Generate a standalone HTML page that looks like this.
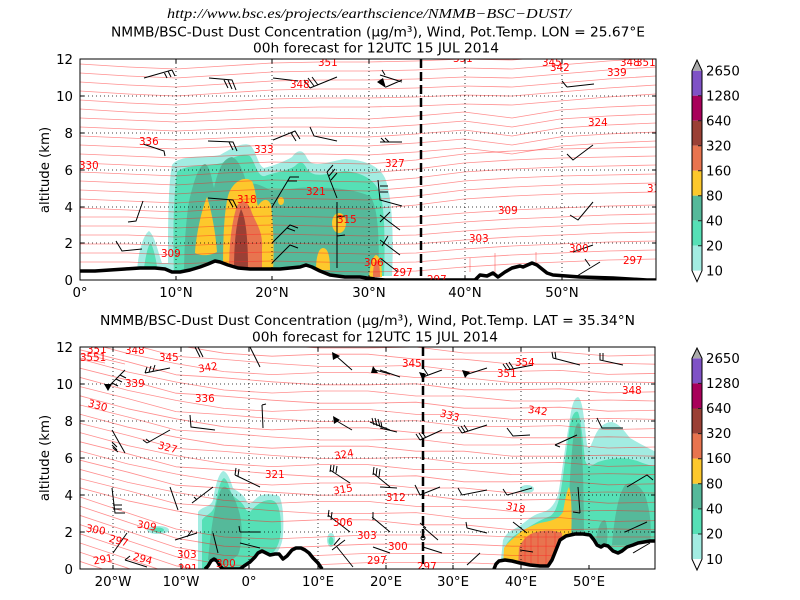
<!DOCTYPE html>
<html><head><meta charset="utf-8"><style>
html,body{margin:0;padding:0;background:#fff;}
svg{display:block;}
text{font-family:"DejaVu Sans","Liberation Sans",sans-serif;}
text.url{font-family:"Liberation Serif","DejaVu Serif",serif;font-style:italic;}
.tk{font-size:13.3px;fill:#000;}
.rl{font-size:10.3px;fill:#f00;}
</style></head><body>
<svg width="800" height="600" viewBox="0 0 800 600">
<defs>
<clipPath id="c1"><rect x="80" y="59" width="576" height="221"/></clipPath>
<clipPath id="c2"><rect x="80" y="347" width="575" height="222"/></clipPath>
<path id="tU" d="M80,0 L128,3 L176,5 L224,2 L272,-1 L320,-2 L368,-2 L416,-3 L464,-5 L512,-4 L560,-8 L608,-12 L656,-15"/>
<path id="tM1" d="M80,0 L128,2 L176,4 L224,2 L272,0 L320,0 L368,1 L416,-2 L464,-6 L488,-3 L512,0 L536,-4 L560,-8 L608,-11 L656,-13"/>
<path id="tM2" d="M80,0 L128,2 L176,4 L224,1 L272,-1 L320,0 L368,1 L416,-3 L464,-9 L512,-12 L560,-14 L608,-15 L656,-16"/>
<path id="tL" d="M80,0 L128,0 L176,2 L224,0 L272,-1 L320,0 L368,1 L416,0 L464,-4 L512,-7 L560,-9 L608,-11 L656,-12"/>
<path id="bA" d="M80,0 L128,12 L176,25 L224,28 L272,32 L320,35 L368,35 L416,34 L464,40 L512,40 L560,39 L608,43 L656,42"/>
<path id="bB" d="M80,0 L128,13 L176,23 L224,31 L272,34 L320,32 L368,32 L416,37 L464,37 L512,42 L560,42 L608,41 L656,42"/>
<path id="bC" d="M80,0 L128,16 L176,32 L224,40 L272,42 L320,40 L368,38 L416,38 L464,38 L512,40 L560,40 L608,40 L656,40"/>
</defs>
<rect width="800" height="600" fill="#fff"/>

<!-- Titles -->
<text class="url" x="167" y="18" font-size="14" textLength="404" lengthAdjust="spacingAndGlyphs">http://www.bsc.es/projects/earthscience/NMMB−BSC−DUST/</text>
<text x="111" y="36.5" font-size="13.7" textLength="534" lengthAdjust="spacingAndGlyphs">NMMB/BSC-Dust Dust Concentration (μg/m³), Wind, Pot.Temp. LON = 25.67°E</text>
<text x="253" y="52.5" font-size="13.7" textLength="246" lengthAdjust="spacingAndGlyphs">00h forecast for 12UTC 15 JUL 2014</text>
<text x="100" y="325" font-size="13.7" textLength="535" lengthAdjust="spacingAndGlyphs">NMMB/BSC-Dust Dust Concentration (μg/m³), Wind, Pot.Temp. LAT = 35.34°N</text>
<text x="252" y="341.5" font-size="13.7" textLength="246" lengthAdjust="spacingAndGlyphs">00h forecast for 12UTC 15 JUL 2014</text>

<!-- ================= TOP PLOT ================= -->
<g clip-path="url(#c1)">
 <path fill="#a3ece2" d="M137,276 C137,258 142,236 149,231 C155,236 158,252 162,263 L168,263 C168,230 168,185 172,165 C180,154 205,158 220,155 C232,148 242,142 250,145 C256,150 258,166 264,168 C272,166 284,162 292,157 C297,150 302,149 306,156 C312,170 325,162 345,159 C362,160 378,164 385,178 C392,195 394,235 392,276 Z"/>
 <path fill="#56e0b6" d="M174,276 C173,240 173,200 177,172 C186,164 205,167 222,163 C235,156 244,153 250,156 C255,162 258,178 265,176 C275,172 288,171 295,166 C300,161 303,161 307,169 C315,180 330,172 345,171 C364,173 376,180 381,196 C385,215 385,245 384,276 Z M143,276 C145,258 148,244 151,243 C154,250 157,262 158,276 Z"/>
 <path fill="#55b99a" d="M184,276 C184,250 186,215 190,197 C194,182 198,166 205,164 C210,166 212,180 214,188 C218,170 223,158 232,157 C240,160 244,175 247,184 C255,182 262,186 270,190 C285,191 300,186 315,188 C335,187 355,190 370,196 C378,206 380,240 378,276 Z"/>
 <path fill="#fdc82c" d="M195,253 C196,235 202,208 207,197 C212,212 216,236 217,252 C210,256 200,256 195,253 Z M223,270 C223,240 224,212 228,196 C232,182 244,175 252,181 C256,190 256,200 258,206 C262,199 268,197 271,205 C274,230 274,255 273,270 Z M316,270 C316,256 319,248 323,248 C328,248 330,256 330,270 Z M369,277 C370,265 373,256 376,255 C380,256 382,265 382,277 Z"/>
 <ellipse cx="281" cy="201" rx="3" ry="4" fill="#fdc82c"/>
 <ellipse cx="339" cy="223" rx="7" ry="10" fill="#fdc82c"/>
 <path fill="#e8744f" d="M229,270 C229,245 232,220 237,206 C242,198 248,200 252,213 C257,225 263,232 262,248 L262,270 Z M373,277 C373,266 375,260 377,260 C379,262 380,268 380,277 Z"/>
 <path fill="#9a4035" d="M234,269 C234,245 236,222 241,209 C246,218 248,240 248,269 Z"/>

 <g fill="none" stroke="#ff2020" stroke-opacity="0.5" stroke-width="0.8" stroke-linejoin="round">
  <use href="#tU" transform="translate(0,64)"/>
  <use href="#tU" transform="translate(0,73)"/>
  <use href="#tU" transform="translate(0,82)"/>
  <use href="#tU" transform="translate(0,91)"/>
  <use href="#tU" transform="translate(0,100)"/>
  <use href="#tU" transform="translate(0,109)"/>
  <use href="#tM1" transform="translate(0,118)"/>
  <use href="#tM1" transform="translate(0,127)"/>
  <use href="#tM1" transform="translate(0,136)"/>
  <use href="#tM1" transform="translate(0,145)"/>
  <use href="#tM1" transform="translate(0,154)"/>
  <use href="#tM2" transform="translate(0,163)"/>
  <use href="#tM2" transform="translate(0,172)"/>
  <use href="#tM2" transform="translate(0,181)"/>
  <use href="#tM2" transform="translate(0,190)"/>
  <use href="#tM2" transform="translate(0,199)"/>
  <use href="#tM2" transform="translate(0,208)"/>
  <use href="#tL" transform="translate(0,217)"/>
  <use href="#tL" transform="translate(0,226)"/>
  <use href="#tL" transform="translate(0,235)"/>
  <use href="#tL" transform="translate(0,244)"/>
  <use href="#tL" transform="translate(0,253)"/>
  <use href="#tL" transform="translate(0,262)"/>
  <use href="#tL" transform="translate(0,271)"/>
  <path d="M495,253 L495,276 M536,252 L536,264 M470,258 L470,272"/>
 </g>

 <g stroke="#000" stroke-width="0.8" stroke-dasharray="1,3" fill="none">
  <path d="M176,59 V280 M272,59 V280 M369,59 V280 M465,59 V280 M562,59 V280"/>
  <path d="M80,96 H656 M80,133 H656 M80,170 H656 M80,207 H656 M80,243 H656"/>
 </g>

 <path fill="#fff" d="M80,271 L95,271 L110,270 L125,269 L140,268 L155,268 L165,269 L172,272 L180,272 L190,270 L200,267 L208,264 L215,261 L220,262 L228,265 L238,268 L250,269 L265,269 L280,269 L290,268 L300,267 L306,265 L312,267 L320,271 L330,275 L345,277 L360,277 L375,279 L385,280 L475,280 L480,275 L487,276 L493,273 L498,277 L505,272 L512,268 L520,266 L523,267 L532,263 L537,265 L547,273 L553,275 L580,277 L613,278 L647,280 L656,280 L656,285 L80,285 Z"/>
 <path fill="none" stroke="#000" stroke-width="3.5" stroke-linejoin="round" d="M80,271 L95,271 L110,270 L125,269 L140,268 L155,268 L165,269 L172,272 L180,272 L190,270 L200,267 L208,264 L215,261 L220,262 L228,265 L238,268 L250,269 L265,269 L280,269 L290,268 L300,267 L306,265 L312,267 L320,271 L330,275 L345,277 L360,277 L375,279 L385,280 L475,280 L480,275 L487,276 L493,273 L498,277 L505,272 L512,268 L520,266 L523,267 L532,263 L537,265 L547,273 L553,275 L580,277 L613,278 L647,280 L656,280"/>

 <g fill="none" stroke="#000" stroke-width="1">
  <path d="M144,78 L172,70 M172,70 L175,76 M168,71 L171,77 M164,72 L167,78 M209,78 L232,80 L236,90 M228,80 L232,89 M224,80 L228,88 M273,78 L298,81 M310,88 L337,77 M310,88 L304,80 M314,86 L308,78 M318,85 L312,77 M386,87 L402,80 M273,140 L295,131 L300,139 M291,133 L296,141 M310,127 L314,136 L337,141 M208,141 L233,142 L237,151 M229,142 L233,150 M143,144 L164,151 L165,156 M143,201 L136,221 L128,222 M116,241 L122,251 L142,249 M208,198 L233,200 L237,208 M229,200 L233,207 M272,207 L290,177 L299,177 M288,181 L297,181 M272,243 L290,225 L298,228 M287,228 L295,231 M272,263 L290,245 L298,248 M337,202 L337,268 M337,217 L345,216 M337,236 L345,235 M327,172 L337,198 M327,172 L333,165 M329,176 L335,169 M331,180 L337,173 M378,180 L380,200 L402,206 M380,186 L388,186 M380,192 L388,192 M380,215 L400,230 M380,222 L390,212 M380,240 L400,255 M382,246 L388,236 M380,258 L398,272 M567,87 L594,84 M567,87 L562,81 M567,154 L573,160 L593,145 M570,215 L578,220 L593,202 M573,252 L593,245 M577,276 L600,262 M590,266 L585,259 M380,75 L402,82 M385,75 L382,70 M380,142 L402,142 M385,142 L381,138 M389,142 L385,138"/>
 </g>
 <path fill="#000" d="M377,82 L386,88 L383,78 Z"/>

 <line x1="421" y1="59" x2="421" y2="280" stroke="#000" stroke-width="2.5" stroke-dasharray="9,4"/>

 <g>
  <text x="318" y="66" class="rl">351</text><text x="290" y="88" class="rl">348</text>
  <text x="139" y="145" class="rl">336</text><text x="254" y="153" class="rl">333</text>
  <text x="79" y="169" class="rl">330</text><text x="385" y="167" class="rl">327</text>
  <text x="306" y="195" class="rl">321</text><text x="237" y="203" class="rl">318</text>
  <text x="337" y="223" class="rl">315</text><text x="161" y="257" class="rl">309</text>
  <text x="364" y="266" class="rl">306</text><text x="393" y="276" class="rl">297</text>
  <text x="427" y="283" class="rl">297</text><text x="469" y="242" class="rl">303</text>
  <text x="498" y="214" class="rl">309</text><text x="588" y="126" class="rl">324</text>
  <text x="569" y="252" class="rl">300</text><text x="623" y="264" class="rl">297</text>
  <text x="607" y="76" class="rl">339</text><text x="550" y="71" class="rl">342</text>
  <text x="542" y="66" class="rl">345</text><text x="620" y="66" class="rl">348</text>
  <text x="636" y="66" class="rl">351</text><text x="453" y="62" class="rl">351</text>
  <text x="647" y="192" class="rl">31</text>
 </g>
</g>
<rect x="80" y="59" width="576" height="221" fill="none" stroke="#000" stroke-width="1"/>
<path stroke="#000" stroke-width="1" fill="none" d="M80,96 h4 M80,133 h4 M80,170 h4 M80,207 h4 M80,243 h4 M656,96 h-4 M656,133 h-4 M656,170 h-4 M656,207 h-4 M656,243 h-4 M176,280 v-4 M272,280 v-4 M369,280 v-4 M465,280 v-4 M562,280 v-4 M176,59 v4 M272,59 v4 M369,59 v4 M465,59 v4 M562,59 v4"/>
<g class="tk" text-anchor="end">
 <text x="73" y="64">12</text><text x="73" y="101">10</text><text x="73" y="138">8</text>
 <text x="73" y="175">6</text><text x="73" y="212">4</text><text x="73" y="248">2</text><text x="73" y="285">0</text>
</g>
<g class="tk" text-anchor="middle">
 <text x="80" y="297">0°</text><text x="176" y="297">10°N</text><text x="272" y="297">20°N</text>
 <text x="369" y="297">30°N</text><text x="465" y="297">40°N</text><text x="562" y="297">50°N</text>
</g>
<text class="tk" text-anchor="middle" transform="translate(49,170) rotate(-90)">altitude (km)</text>

<!-- Top colorbar -->
<rect x="692" y="70.7" width="10" height="25" fill="#7f52c6"/>
<rect x="692" y="95.7" width="10" height="25" fill="#a8005a"/>
<rect x="692" y="120.7" width="10" height="25" fill="#9a4035"/>
<rect x="692" y="145.7" width="10" height="25" fill="#e8744f"/>
<rect x="692" y="170.7" width="10" height="25" fill="#fdc82c"/>
<rect x="692" y="195.7" width="10" height="25" fill="#55b99a"/>
<rect x="692" y="220.7" width="10" height="25" fill="#56e0b6"/>
<rect x="692" y="245.7" width="10" height="25" fill="#a3ece2"/>
<path d="M692,70.7 L697,60 L702,70.7 Z" fill="#aaa"/>
<path d="M692,270.7 L697,281.7 L702,270.7 Z" fill="#fff"/>
<path d="M697,60 L702,70.7 L702,270.7 L697,281.7 L692,270.7 L692,70.7 Z" fill="none" stroke="#000" stroke-width="1"/>
<path stroke="#222" stroke-width="1" d="M698,95.7 h4 M698,120.7 h4 M698,145.7 h4 M698,170.7 h4 M698,195.7 h4 M698,220.7 h4 M698,245.7 h4"/>
<g class="tk">
 <text x="706" y="75.5">2650</text><text x="706" y="100.5">1280</text><text x="706" y="125.5">640</text>
 <text x="706" y="150.5">320</text><text x="706" y="175.5">160</text><text x="706" y="200.5">80</text>
 <text x="706" y="225.5">40</text><text x="706" y="250.5">20</text><text x="706" y="275.5">10</text>
</g>

<!-- ================= BOTTOM PLOT ================= -->
<g clip-path="url(#c2)">
 <path fill="#a3ece2" d="M198,569 L198,512 C202,506 210,508 213,500 C215,488 218,474 223,471 C228,472 231,482 233,488 C238,492 244,494 247,502 C250,506 254,500 258,497 C264,493 272,494 279,496 C283,502 284,520 283,535 C282,548 276,555 270,560 L260,569 Z"/>
 <ellipse cx="158" cy="530" rx="11" ry="4" fill="#a3ece2"/>
 <ellipse cx="331" cy="540" rx="4" ry="7" fill="#a3ece2"/>
 <path fill="#56e0b6" d="M202,569 L202,520 C206,514 212,515 215,505 C218,492 220,480 224,478 C228,480 230,490 232,495 C238,500 243,502 246,510 L250,512 C255,506 262,500 270,500 C278,500 281,510 281,530 C280,545 275,552 268,557 L250,569 Z"/>
 <ellipse cx="158" cy="530" rx="6" ry="2.5" fill="#56e0b6"/>
 <ellipse cx="331" cy="541" rx="2.5" ry="4" fill="#56e0b6"/>
 <path fill="#55b99a" d="M208,560 C210,540 212,520 216,505 C219,492 222,485 226,487 C232,492 236,500 240,515 C243,530 242,545 238,555 L225,565 Z"/>

 <path fill="#a3ece2" d="M500,569 L503,540 C506,533 512,530 518,527 C526,522 532,515 540,513 C548,511 553,508 558,495 C562,475 565,445 569,425 C571,410 573,398 578,397 C583,400 584,420 587,445 C589,452 591,445 594,438 C598,428 604,422 612,422 C620,424 625,432 630,438 C640,444 648,448 656,452 L656,569 Z"/>
 <ellipse cx="527" cy="489" rx="7" ry="4" fill="#a3ece2"/>
 <path fill="#56e0b6" d="M504,569 L506,545 C510,538 516,534 524,530 C532,525 540,520 548,517 C555,515 558,505 561,490 C564,470 567,445 570,425 C572,415 575,410 578,412 C581,420 583,440 585,460 C588,470 592,465 598,462 C610,458 625,456 640,462 C648,465 652,466 656,466 L656,569 Z"/>
 <path fill="#55b99a" d="M568,545 C568,510 570,470 573,440 C575,425 578,420 580,425 C583,450 584,500 584,545 Z M612,545 C614,520 618,495 625,485 C632,480 640,485 645,495 C650,510 652,525 650,545 Z M595,548 C597,530 600,520 605,520 C608,525 608,540 606,548 Z"/>
 <path fill="#fdc82c" d="M503,569 L504,548 C508,542 512,540 516,536 C522,530 530,526 540,523 C550,521 558,520 563,512 C565,500 567,490 569,487 C572,495 572,520 571,540 L565,569 Z"/>
 <path fill="#e8744f" d="M518,569 L519,548 C522,540 528,534 536,532 C545,530 555,530 562,533 L564,569 Z"/>

 <g fill="none" stroke="#ff2020" stroke-opacity="0.5" stroke-width="0.8" stroke-linejoin="round">
  <use href="#bA" transform="translate(0,313)"/>
  <use href="#bB" transform="translate(0,322.2)"/>
  <use href="#bA" transform="translate(0,331.4)"/>
  <use href="#bB" transform="translate(0,340.6)"/>
  <use href="#bA" transform="translate(0,349.8)"/>
  <use href="#bB" transform="translate(0,359)"/>
  <use href="#bA" transform="translate(0,368.2)"/>
  <use href="#bB" transform="translate(0,377.4)"/>
  <use href="#bA" transform="translate(0,386.6)"/>
  <use href="#bB" transform="translate(0,395.8)"/>
  <use href="#bA" transform="translate(0,405)"/>
  <use href="#bB" transform="translate(0,414.2)"/>
  <use href="#bA" transform="translate(0,423.4)"/>
  <use href="#bB" transform="translate(0,432.6)"/>
  <use href="#bA" transform="translate(0,441.8)"/>
  <use href="#bB" transform="translate(0,451)"/>
  <use href="#bA" transform="translate(0,460.2)"/>
  <use href="#bB" transform="translate(0,469.4)"/>
  <use href="#bA" transform="translate(0,478.6)"/>
  <use href="#bB" transform="translate(0,487.8)"/>
  <use href="#bC" transform="translate(0,497)"/>
  <use href="#bC" transform="translate(0,506.2)"/>
  <use href="#bC" transform="translate(0,515.4)"/>
  <use href="#bC" transform="translate(0,524.6)"/>
  <use href="#bC" transform="translate(0,533.8)"/>
  <use href="#bC" transform="translate(0,543)"/>
  <use href="#bC" transform="translate(0,552.2)"/>
  <use href="#bC" transform="translate(0,561.4)"/>
  <path d="M80,354 L100,358 L125,364 M80,358 L105,363 M525,536 V566 M531,534 V566 M538,533 V566 M546,532 V566 M555,532 V566"/>
 </g>

 <g stroke="#000" stroke-width="0.8" stroke-dasharray="1,3" fill="none">
  <path d="M113,347 V569 M181,347 V569 M249,347 V569 M318,347 V569 M386,347 V569 M453,347 V569 M521,347 V569 M589,347 V569"/>
  <path d="M80,384 H655 M80,421 H655 M80,458 H655 M80,495 H655 M80,532 H655"/>
 </g>

 <path fill="#fff" d="M80,569 L205,569 L208,566 L211,561 L214,559 L217,561 L220,566 L223,569 L240,569 L244,566 L250,562 L255,557 L258,553 L262,551 L266,553 L270,555 L275,554 L279,554 L283,559 L287,556 L292,550 L296,548 L301,548 L305,550 L309,553 L313,558 L318,563 L322,569 L494,569 L496,564 L499,561 L505,560 L512,561 L520,563 L530,565 L540,566 L548,566 L552,560 L556,550 L560,540 L566,536 L575,534 L583,534 L590,535 L594,540 L597,545 L601,547 L604,545 L608,546 L613,551 L618,553 L622,551 L627,547 L633,545 L638,543 L644,542 L650,541 L656,541 L656,575 L80,575 Z"/>
 <path fill="none" stroke="#000" stroke-width="3.5" stroke-linejoin="round" d="M205,569 L208,566 L211,561 L214,559 L217,561 L220,566 L223,569 L240,569 L244,566 L250,562 L255,557 L258,553 L262,551 L266,553 L270,555 L275,554 L279,554 L283,559 L287,556 L292,550 L296,548 L301,548 L305,550 L309,553 L313,558 L318,563 L322,569 M494,569 L496,564 L499,561 L505,560 L512,561 L520,563 L530,565 L540,566 L548,566 L552,560 L556,550 L560,540 L566,536 L575,534 L583,534 L590,535 L594,540 L597,545 L601,547 L604,545 L608,546 L613,551 L618,553 L622,551 L627,547 L633,545 L638,543 L644,542 L650,541 L656,541"/>

 <g fill="none" stroke="#000" stroke-width="1">
  <path d="M108,387 L125,370 M112,383 L118,386 M116,379 L122,382 M120,375 L126,378 M145,373 L170,368 M145,373 L147,367 M149,372 L151,366 M153,371 L155,365 M195,347 L200,357 M198,347 L203,357 M250,347 L260,367 M335,355 L352,370 M375,370 L390,374 M190,415 L191,427 L215,430 M262,405 L263,428 M262,405 L266,404 M335,420 L352,430 M370,422 L390,430 M372,418 L374,425 M375,418 L377,426 M378,419 L380,427 M112,430 L125,453 M112,445 L117,450 M113,448 L118,452 M112,442 L117,447 M147,443 L170,430 M147,443 L143,440 M150,442 L146,439 M235,475 L260,487 M235,475 L236,468 M238,476 L239,469 M330,470 L350,483 M330,472 L331,465 M333,472 L334,465 M336,473 L337,466 M373,473 L390,487 M373,475 L374,467 M376,476 L377,468 M379,477 L380,469 M170,487 L178,510 M192,503 L213,487 M197,500 L194,497 M112,488 L115,513 L125,513 M113,505 L122,505 M113,509 L122,509 M240,532 L260,532 M240,532 L239,526 M213,533 L218,553 M240,543 L260,548 M328,515 L350,532 M328,517 L329,510 M331,520 L332,512 M337,547 L353,567 M332,550 L345,540 M334,545 L340,538 M372,517 L390,532 M373,520 L373,512 M373,547 L390,553 M175,540 L197,533 M187,537 L192,530 M113,553 L127,533 M125,560 L147,567 M125,560 L130,556"/>
  <path d="M380,370 L400,377 M423,377 L442,370 M428,375 L424,369 M465,375 L487,368 M507,370 L533,365 M507,370 L503,364 M510,369 L506,363 M513,368 L509,362 M553,358 L580,365 M553,358 L552,352 M556,359 L555,352 M600,353 L600,360 L623,365 M603,353 L603,360 M380,428 L397,432 M382,428 L381,422 M420,440 L442,430 M420,440 L416,434 M423,439 L419,433 M426,438 L422,432 M462,433 L487,425 M462,433 L458,427 M465,432 L461,426 M468,431 L464,425 M507,428 L513,436 L530,435 M555,445 L577,435 M555,445 L560,447 M597,418 L602,428 L623,428 M380,487 L397,488 M415,485 L420,495 L440,487 M458,488 L462,495 L487,490 M507,495 L532,488 M507,495 L503,489 M578,487 L580,513 M627,487 L647,475 L653,480 M625,532 L647,522 M633,553 L650,543 M423,527 L438,540 M420,523 L426,528 M423,547 L442,553 M467,528 L487,533 M467,528 L466,522 M467,565 L480,553 M513,522 L527,533 M520,550 L533,552 M573,512 L580,513"/>
 </g>
 <path fill="#000" d="M104,384 L112,384 L108,391 Z M332,352 L340,356 L333,360 Z M373,366 L378,373 L371,373 Z M333,416 L340,420 L334,424 Z M462,370 L470,372 L465,378 Z M419,372 L426,374 L423,381 Z"/>

 <line x1="423" y1="347" x2="423" y2="569" stroke="#000" stroke-width="2.5" stroke-dasharray="9,4"/>
 <circle cx="423" cy="538" r="2" fill="none" stroke="#000" stroke-width="1"/>

 <g>
  <text x="87" y="353" class="rl">351</text><text x="80" y="361" class="rl">3551</text>
  <text x="125" y="354" class="rl">348</text><text x="159" y="361" class="rl">345</text>
  <text x="198" y="371" class="rl" transform="rotate(-10 207 367)">342</text>
  <text x="125" y="387" class="rl">339</text><text x="195" y="402" class="rl">336</text>
  <text x="88" y="409" class="rl" transform="rotate(15 98 405)">330</text>
  <text x="158" y="451" class="rl" transform="rotate(15 168 447)">327</text>
  <text x="334" y="458" class="rl" transform="rotate(-10 343 454)">324</text>
  <text x="265" y="478" class="rl">321</text>
  <text x="333" y="493" class="rl" transform="rotate(-10 342 489)">315</text>
  <text x="137" y="529" class="rl" transform="rotate(10 146 525)">309</text>
  <text x="333" y="526" class="rl">306</text><text x="357" y="539" class="rl">303</text>
  <text x="86" y="533" class="rl" transform="rotate(10 95 529)">300</text>
  <text x="109" y="544" class="rl" transform="rotate(15 118 540)">297</text>
  <text x="367" y="564" class="rl">297</text>
  <text x="133" y="562" class="rl" transform="rotate(15 142 558)">294</text>
  <text x="93" y="563" class="rl" transform="rotate(-10 102 559)">291</text>
  <text x="177" y="558" class="rl">303</text><text x="178" y="572" class="rl">291</text>
  <text x="216" y="567" class="rl">300</text>
  <text x="402" y="367" class="rl">345</text><text x="515" y="366" class="rl">354</text>
  <text x="497" y="377" class="rl">351</text><text x="622" y="394" class="rl">348</text>
  <text x="528" y="414" class="rl" transform="rotate(8 537 410)">342</text>
  <text x="440" y="419" class="rl" transform="rotate(15 450 415)">333</text>
  <text x="386" y="501" class="rl">312</text>
  <text x="506" y="511" class="rl" transform="rotate(12 515 507)">318</text>
  <text x="388" y="550" class="rl">300</text><text x="417" y="570" class="rl">297</text>
 </g>
</g>
<rect x="80" y="347" width="575" height="222" fill="none" stroke="#000" stroke-width="1"/>
<path stroke="#000" stroke-width="1" fill="none" d="M80,384 h4 M80,421 h4 M80,458 h4 M80,495 h4 M80,532 h4 M655,384 h-4 M655,421 h-4 M655,458 h-4 M655,495 h-4 M655,532 h-4 M113,569 v-4 M181,569 v-4 M249,569 v-4 M318,569 v-4 M386,569 v-4 M453,569 v-4 M521,569 v-4 M589,569 v-4 M113,347 v4 M181,347 v4 M249,347 v4 M318,347 v4 M386,347 v4 M453,347 v4 M521,347 v4 M589,347 v4"/>
<g class="tk" text-anchor="end">
 <text x="73" y="352">12</text><text x="73" y="389">10</text><text x="73" y="426">8</text>
 <text x="73" y="463">6</text><text x="73" y="500">4</text><text x="73" y="537">2</text><text x="73" y="574">0</text>
</g>
<g class="tk" text-anchor="middle">
 <text x="113" y="586">20°W</text><text x="181" y="586">10°W</text><text x="249" y="586">0°</text>
 <text x="318" y="586">10°E</text><text x="386" y="586">20°E</text><text x="453" y="586">30°E</text>
 <text x="521" y="586">40°E</text><text x="589" y="586">50°E</text>
</g>
<text class="tk" text-anchor="middle" transform="translate(49,458) rotate(-90)">altitude (km)</text>

<!-- Bottom colorbar -->
<rect x="692" y="358.3" width="10" height="25.1" fill="#7f52c6"/>
<rect x="692" y="383.4" width="10" height="25.1" fill="#a8005a"/>
<rect x="692" y="408.5" width="10" height="25.1" fill="#9a4035"/>
<rect x="692" y="433.6" width="10" height="25.1" fill="#e8744f"/>
<rect x="692" y="458.7" width="10" height="25.1" fill="#fdc82c"/>
<rect x="692" y="483.8" width="10" height="25.1" fill="#55b99a"/>
<rect x="692" y="508.9" width="10" height="25.1" fill="#56e0b6"/>
<rect x="692" y="534" width="10" height="25.1" fill="#a3ece2"/>
<path d="M692,358.3 L697,348 L702,358.3 Z" fill="#aaa"/>
<path d="M692,559.1 L697,570 L702,559.1 Z" fill="#fff"/>
<path d="M697,348 L702,358.3 L702,559.1 L697,570 L692,559.1 L692,358.3 Z" fill="none" stroke="#000" stroke-width="1"/>
<path stroke="#222" stroke-width="1" d="M698,383.4 h4 M698,408.5 h4 M698,433.6 h4 M698,458.7 h4 M698,483.8 h4 M698,508.9 h4 M698,534 h4"/>
<g class="tk">
 <text x="706" y="363">2650</text><text x="706" y="388">1280</text><text x="706" y="413">640</text>
 <text x="706" y="438">320</text><text x="706" y="463">160</text><text x="706" y="488.5">80</text>
 <text x="706" y="513.5">40</text><text x="706" y="538.5">20</text><text x="706" y="564">10</text>
</g>
</svg>
</body></html>
